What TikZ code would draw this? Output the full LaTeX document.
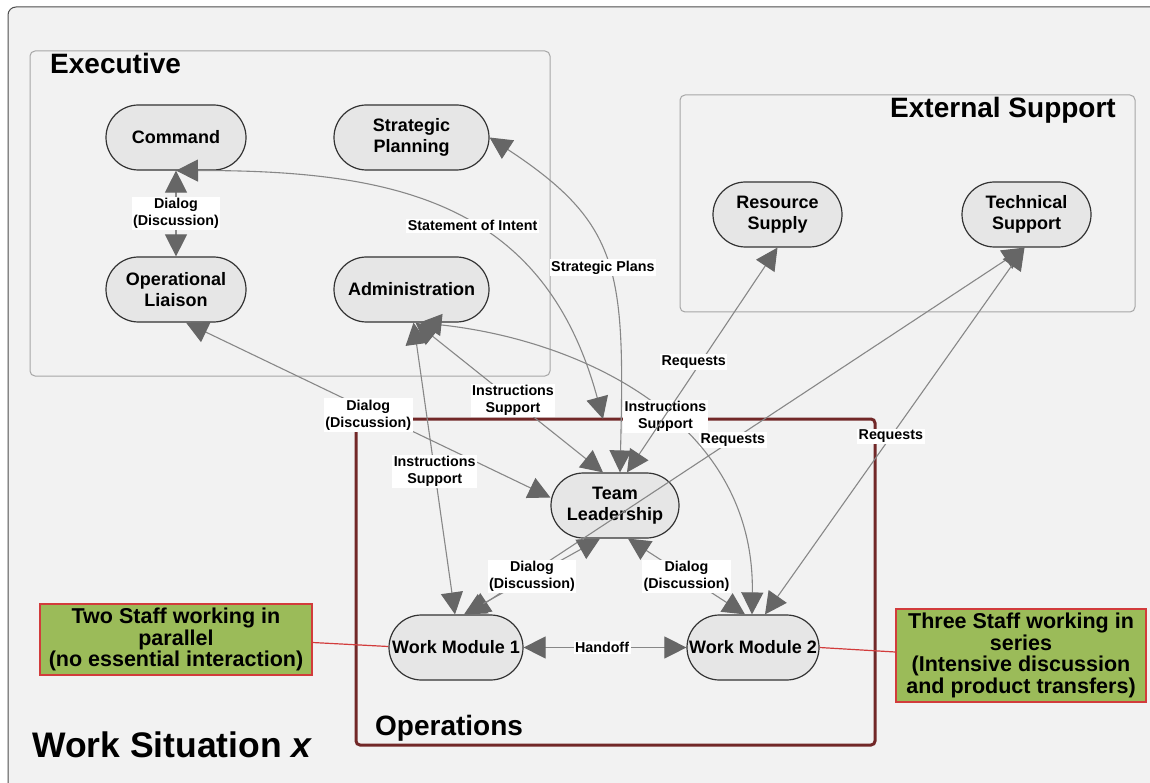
\documentclass[tikz,border=0pt]{standalone}
\usepackage{fontspec}
\setmainfont{Liberation Sans}
\usetikzlibrary{shapes.misc,arrows.meta}

\definecolor{paper}{HTML}{F2F2F2}
\definecolor{frameedge}{HTML}{4D4D4D}
\definecolor{groupedge}{HTML}{A6A6A6}
\definecolor{nodefill}{HTML}{E6E6E6}
\definecolor{nodeedge}{HTML}{333333}
\definecolor{linegray}{HTML}{878787}
\definecolor{tipgray}{HTML}{666666}
\definecolor{opsred}{HTML}{722828}
\definecolor{notegreen}{HTML}{9BBB59}
\definecolor{notered}{HTML}{D23C3C}

\begin{document}
\begin{tikzpicture}[x=1pt,y=-1pt,
  unit/.style={rounded rectangle, draw=nodeedge, line width=1.2pt, fill=nodefill,
    minimum height=65pt, inner sep=1pt, align=center,
    font=\fontsize{18}{21}\selectfont\bfseries},
  lbl/.style={fill=white, inner sep=1.5pt, align=center,
    font=\fontsize{14.3}{17}\selectfont\bfseries},
  link/.style={draw=linegray, line width=1.1pt,
    >={Triangle[length=22pt,width=22pt,color=tipgray]}, <->},
  group/.style={draw=groupedge, line width=1pt, rounded corners=5pt},
  heading/.style={font=\fontsize{28}{32}\selectfont\bfseries, inner sep=0pt},
  note/.style={draw=notered, line width=1.2pt, fill=notegreen, align=center,
    inner sep=0pt, font=\fontsize{21.5}{21.7}\selectfont\bfseries},
  tie/.style={draw=notered, line width=1.2pt}]

\useasboundingbox (0,0) rectangle (1150,783);
\clip (0,0) rectangle (1150,783);
\fill[white] (0,0) rectangle (1150,783);

% outer sheet
\draw[frameedge, fill=paper, line width=1pt, rounded corners=8pt] (8,7) rectangle (1175,800);

% group frames
\draw[group] (30,51) rectangle (550,376);
\draw[group] (680,95) rectangle (1135,312);
\node[draw=opsred, line width=3pt, rounded corners=4pt, minimum width=519pt,
      minimum height=326pt, inner sep=0pt] (ops) at (615.5,582) {};
\coordinate (opsTop) at (603,419);

% group titles
\node[heading, anchor=base west] (exTitle) at (50,74) {Executive};
\node[heading, anchor=base east] (esTitle) at (1116,118) {External Support};
\node[heading, anchor=base west] (opTitle) at (375,735) {Operations};
\node[font=\fontsize{35.5}{40}\selectfont\bfseries, inner sep=0pt, anchor=base west]
  (wsTitle) at (32,757) {Work Situation \textit{x}};

% units
\node[unit, minimum width=142pt] (cmd) at (176,137.5) {Command};
\node[unit, minimum width=157pt] (sp)  at (411.5,137.5) {Strategic\\Planning};
\node[unit, minimum width=142pt] (ol)  at (176,289.5) {Operational\\Liaison};
\node[unit, minimum width=157pt] (adm) at (411.5,289.5) {Administration};
\node[unit, minimum width=131pt] (rs)  at (777.5,214.5) {Resource\\Supply};
\node[unit, minimum width=131pt] (ts)  at (1026.5,214.5) {Technical\\Support};
\node[unit, minimum width=130pt] (tl)  at (615,505.5) {Team\\Leadership};
\node[unit, minimum width=136pt] (wm1) at (456,647.5) {Work Module 1};
\node[unit, minimum width=134pt] (wm2) at (753,647.5) {Work Module 2};

% links
\draw[link] ([xshift=10pt]ol.south) -- ([yshift=8pt]tl.west)
  node[lbl, pos=0.5, yshift=-5pt] {Dialog\\(Discussion)};
\draw[link] ([xshift=-2pt]ts.south) -- ([xshift=12pt]wm1.north)
  node[lbl, pos=0.524] {Requests};
\draw[link] (cmd.south) -- (ol.north)
  node[lbl, midway] {Dialog\\(Discussion)};
\draw[link] (cmd.south) .. controls (400,170) and (545,205) .. (opsTop)
  node[lbl, pos=0.55] {Statement of Intent};
\draw[link] (sp.east) .. controls (621,224) and (625,271) .. ([xshift=5pt]tl.north)
  node[lbl, pos=0.52, xshift=-5pt] {Strategic Plans};
\draw[link] ([xshift=8pt]adm.south) .. controls (580,340) and (755,420) .. ([xshift=-1pt]wm2.north)
  node[lbl, pos=0.55] {Instructions\\Support};
\draw[link] (rs.south) -- ([xshift=12pt]tl.north)
  node[lbl, pos=0.51, xshift=-7pt] {Requests};
\draw[link] ([xshift=4pt]adm.south) -- ([xshift=-12pt]tl.north)
  node[lbl, pos=0.52] {Instructions\\Support};
\draw[link] ([xshift=2pt]adm.south) -- ([xshift=-1pt]wm1.north)
  node[lbl, pos=0.51] {Instructions\\Support};
\draw[link] ([xshift=-15pt]tl.south) -- ([xshift=8pt]wm1.north)
  node[lbl, midway] {Dialog\\(Discussion)};
\draw[link] ([xshift=13pt]tl.south) -- ([xshift=-8pt]wm2.north)
  node[lbl, midway] {Dialog\\(Discussion)};
\draw[link] (wm1.east) -- (wm2.west)
  node[lbl, midway, xshift=-3pt] {Handoff};
\draw[link] ([xshift=-2pt]ts.south) -- ([xshift=12pt]wm2.north)
  node[lbl, pos=0.515] {Requests};

% notes
\node[note, minimum width=272pt, minimum height=71pt] (lc) at (176,639.5)
  {Two Staff working in\\parallel\\(no essential interaction)};
\node[note, minimum width=250pt, minimum height=93pt] (rc) at (1021,655.5)
  {Three Staff working in\\series\\(Intensive discussion\\and product transfers)};
\draw[tie] ([yshift=-3pt]lc.east) -- ([yshift=1pt]wm1.west);
\draw[tie] (wm2.east) -- ([yshift=3.5pt]rc.west);

\end{tikzpicture}
\end{document}
